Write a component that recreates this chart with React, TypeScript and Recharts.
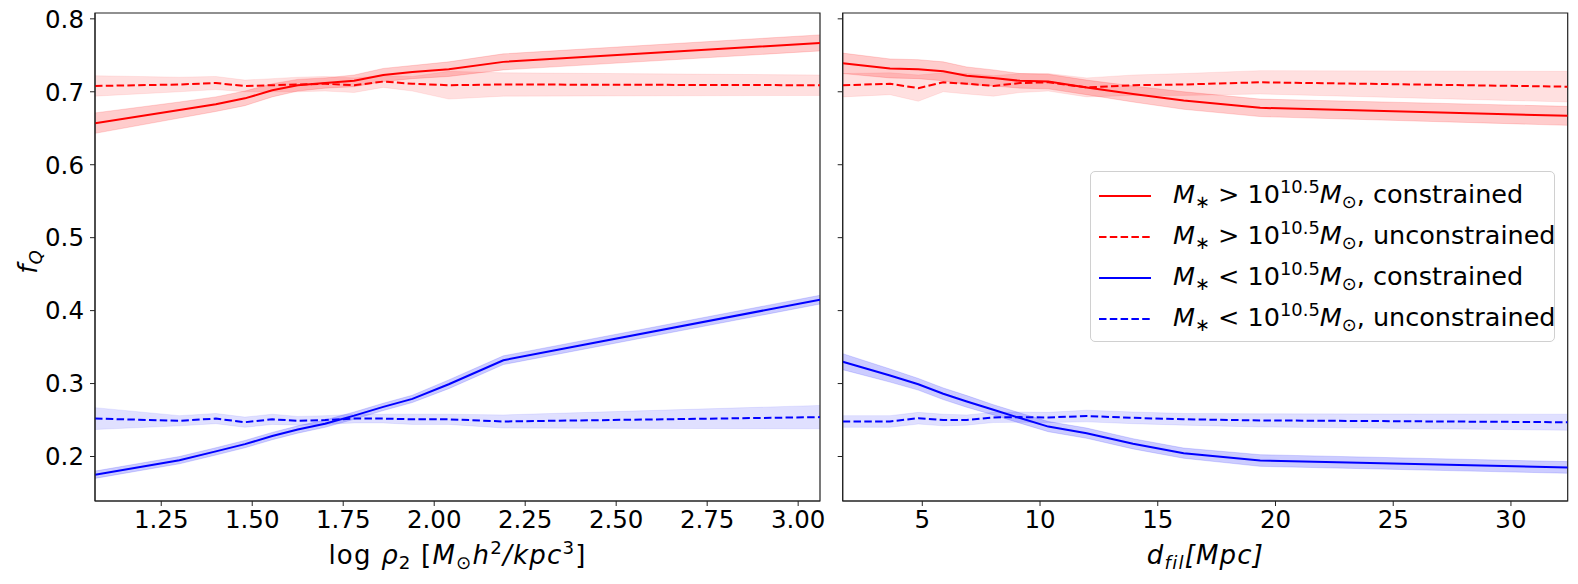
import React from 'react';
import { ComposedChart, Line, Area, XAxis, YAxis, ReferenceArea, Legend } from 'recharts';

// ---------- data ----------
const LEFT_X = [1.068, 1.3, 1.4, 1.48, 1.555, 1.625, 1.7, 1.78, 1.86, 1.94, 2.04, 2.19, 3.06];
const L_RED_CON = [0.657, 0.675, 0.683, 0.691, 0.702, 0.709, 0.712, 0.715, 0.723, 0.727, 0.731, 0.741, 0.767];
const L_RED_CON_ERR = [0.014, 0.011, 0.01, 0.01, 0.009, 0.008, 0.007, 0.008, 0.009, 0.009, 0.01, 0.011, 0.011];
const L_RED_UNC = [0.708, 0.71, 0.712, 0.708, 0.709, 0.71, 0.711, 0.709, 0.714, 0.711, 0.709, 0.71, 0.709];
const L_RED_UNC_ERR = [0.014, 0.01, 0.009, 0.008, 0.009, 0.01, 0.01, 0.01, 0.008, 0.01, 0.019, 0.016, 0.014];
const L_BLUE_CON = [0.175, 0.195, 0.207, 0.217, 0.228, 0.237, 0.245, 0.256, 0.268, 0.279, 0.299, 0.332, 0.415];
const L_BLUE_CON_ERR = [0.005, 0.005, 0.005, 0.005, 0.005, 0.005, 0.005, 0.005, 0.005, 0.005, 0.006, 0.006, 0.006];
const L_BLUE_UNC = [0.252, 0.249, 0.252, 0.247, 0.251, 0.249, 0.25, 0.252, 0.252, 0.251, 0.251, 0.248, 0.254];
const L_BLUE_UNC_ERR = [0.015, 0.007, 0.007, 0.007, 0.007, 0.006, 0.006, 0.006, 0.006, 0.007, 0.007, 0.009, 0.016];

const RIGHT_X = [1.62, 3.63, 4.83, 5.89, 6.89, 8.02, 9.15, 10.35, 11.98, 13.95, 16.1, 19.35, 32.41];
const R_RED_CON = [0.739, 0.732, 0.731, 0.728, 0.722, 0.719, 0.715, 0.714, 0.706, 0.697, 0.688, 0.678, 0.667];
const R_RED_CON_ERR = [0.014, 0.013, 0.013, 0.013, 0.012, 0.011, 0.01, 0.01, 0.01, 0.011, 0.012, 0.012, 0.013];
const R_RED_UNC = [0.709, 0.711, 0.705, 0.713, 0.711, 0.708, 0.712, 0.713, 0.706, 0.709, 0.71, 0.713, 0.707];
const R_RED_UNC_ERR = [0.016, 0.015, 0.018, 0.013, 0.014, 0.014, 0.013, 0.012, 0.013, 0.014, 0.015, 0.016, 0.021];
const R_BLUE_CON = [0.33, 0.311, 0.299, 0.286, 0.2755, 0.264, 0.2527, 0.241, 0.232, 0.2174, 0.2046, 0.1945, 0.185];
const R_BLUE_CON_ERR = [0.011, 0.009, 0.008, 0.008, 0.008, 0.007, 0.007, 0.007, 0.007, 0.007, 0.007, 0.008, 0.008];
const R_BLUE_UNC = [0.248, 0.248, 0.2525, 0.25, 0.25, 0.2535, 0.254, 0.2535, 0.2555, 0.253, 0.251, 0.2495, 0.247];
const R_BLUE_UNC_ERR = [0.008, 0.008, 0.008, 0.008, 0.007, 0.007, 0.007, 0.007, 0.008, 0.008, 0.008, 0.009, 0.011];

const Y_TICKS = [0.2, 0.3, 0.4, 0.5, 0.6, 0.7, 0.8];
const Y_DOMAIN = [0.139, 0.808];
const LEFT_TICKS = [1.25, 1.5, 1.75, 2.0, 2.25, 2.5, 2.75, 3.0];
const LEFT_DOMAIN = [1.068, 3.06];
const RIGHT_TICKS = [5, 10, 15, 20, 25, 30];
const RIGHT_DOMAIN = [1.62, 32.41];

const LEGEND_SIGNS = ['>', '>', '<', '<'];
const LEGEND_KINDS = ['constrained', 'unconstrained', 'constrained', 'unconstrained'];
const LEGEND_COLORS = ['#ff0000', '#ff0000', '#0000ff', '#0000ff'];
const LEGEND_DASHED = [false, true, false, true];

// ---------- helpers ----------
const RED = '#ff0000';
const BLUE = '#0000ff';
const DASH = '7.5 3.3';
const FONT = "'DejaVu Sans', sans-serif";
const TICK_FS = 24.5;

function build(xs, rc, rcE, ru, ruE, bc, bcE, bu, buE) {
  return xs.map((x, i) => ({
    x,
    rc: rc[i], rcB: [rc[i] - rcE[i], rc[i] + rcE[i]],
    ru: ru[i], ruB: [ru[i] - ruE[i], ru[i] + ruE[i]],
    bc: bc[i], bcB: [bc[i] - bcE[i], bc[i] + bcE[i]],
    bu: bu[i], buB: [bu[i] - buE[i], bu[i] + buE[i]],
  }));
}

const leftData = build(LEFT_X, L_RED_CON, L_RED_CON_ERR, L_RED_UNC, L_RED_UNC_ERR, L_BLUE_CON, L_BLUE_CON_ERR, L_BLUE_UNC, L_BLUE_UNC_ERR);
const rightData = build(RIGHT_X, R_RED_CON, R_RED_CON_ERR, R_RED_UNC, R_RED_UNC_ERR, R_BLUE_CON, R_BLUE_CON_ERR, R_BLUE_UNC, R_BLUE_UNC_ERR);

const Sub = ({ children }: any) => (
  <span style={{ fontSize: '0.7em', position: 'relative', top: '0.3em' }}>{children}</span>
);
const Sup = ({ children }: any) => (
  <span style={{ fontSize: '0.7em', position: 'relative', top: '-0.55em' }}>{children}</span>
);

const makeXTick = (fmt: (v: number) => string) => (props: any) => {
  const { x, y, payload } = props;
  return (
    <text x={x} y={y} dy="0.76em" textAnchor="middle" fontSize={TICK_FS} fontFamily={FONT} fill="#000">
      {fmt(payload.value)}
    </text>
  );
};
const makeYTick = (fmt: (v: number) => string) => (props: any) => {
  const { x, y, payload } = props;
  const s = fmt(payload.value);
  if (!s) return <g />;
  return (
    <text x={x} y={y} dy="0.36em" textAnchor="end" fontSize={TICK_FS} fontFamily={FONT} fill="#000">
      {s}
    </text>
  );
};

function seriesEls() {
  return [
    <Area key="rcB" dataKey="rcB" type="linear" fill={RED} fillOpacity={0.2} stroke={RED} strokeOpacity={0.15} strokeWidth={1} isAnimationActive={false} dot={false} activeDot={false} />,
    <Area key="ruB" dataKey="ruB" type="linear" fill={RED} fillOpacity={0.12} stroke={RED} strokeOpacity={0.08} strokeWidth={1} isAnimationActive={false} dot={false} activeDot={false} />,
    <Area key="bcB" dataKey="bcB" type="linear" fill={BLUE} fillOpacity={0.2} stroke={BLUE} strokeOpacity={0.15} strokeWidth={1} isAnimationActive={false} dot={false} activeDot={false} />,
    <Area key="buB" dataKey="buB" type="linear" fill={BLUE} fillOpacity={0.12} stroke={BLUE} strokeOpacity={0.08} strokeWidth={1} isAnimationActive={false} dot={false} activeDot={false} />,
    <Line key="rc" dataKey="rc" type="linear" stroke={RED} strokeWidth={2} dot={false} activeDot={false} isAnimationActive={false} />,
    <Line key="ru" dataKey="ru" type="linear" stroke={RED} strokeWidth={2} strokeDasharray={DASH} dot={false} activeDot={false} isAnimationActive={false} />,
    <Line key="bc" dataKey="bc" type="linear" stroke={BLUE} strokeWidth={2} dot={false} activeDot={false} isAnimationActive={false} />,
    <Line key="bu" dataKey="bu" type="linear" stroke={BLUE} strokeWidth={2} strokeDasharray={DASH} dot={false} activeDot={false} isAnimationActive={false} />,
  ];
}

const LegendBox = () => (
  <div
    style={{
      width: 465,
      height: 171,
      boxSizing: 'border-box',
      border: '1px solid #d0d0d0',
      borderRadius: 5,
      background: 'rgba(255,255,255,0.85)',
      padding: '3px 0 0 0',
      fontFamily: FONT,
      fontSize: 25.5,
      color: '#000',
    }}
  >
    {LEGEND_SIGNS.map((s, i) => (
      <div key={i} style={{ height: 41, display: 'flex', alignItems: 'center', whiteSpace: 'nowrap' }}>
        <svg width={70} height={10} style={{ flex: '0 0 auto' }}>
          <line x1={8} x2={60} y1={5} y2={5} stroke={LEGEND_COLORS[i]} strokeWidth={2} strokeDasharray={LEGEND_DASHED[i] ? DASH : undefined} />
        </svg>
        <span style={{ marginLeft: 12, lineHeight: '30px' }}>
          <i>M</i>
          <Sub>∗</Sub>
          {' ' + s + ' '}10<Sup>10.5</Sup>
          <i>M</i>
          <Sub>⊙</Sub>, {LEGEND_KINDS[i]}
        </span>
      </div>
    ))}
  </div>
);

export default function App() {
  return (
    <div style={{ position: 'absolute', left: 0, top: 0, width: 1578, height: 584, background: '#fff', fontFamily: FONT }}>
      {/* Left panel */}
      <div style={{ position: 'absolute', left: 0, top: 0 }}>
        <ComposedChart width={830} height={584} data={leftData} margin={{ top: 13, right: 10, left: 35, bottom: 43 }}>
          <XAxis
            dataKey="x"
            type="number"
            domain={LEFT_DOMAIN}
            allowDataOverflow
            ticks={LEFT_TICKS}
            height={40}
            tick={makeXTick((v) => v.toFixed(2))}
            tickSize={5}
            tickMargin={3}
            stroke="#222"
          />
          <YAxis
            type="number"
            domain={Y_DOMAIN}
            allowDataOverflow
            ticks={Y_TICKS}
            width={60}
            tick={makeYTick((v) => v.toFixed(1))}
            tickSize={5}
            tickMargin={6}
            stroke="#222"
          />
          {seriesEls()}
          <ReferenceArea x1={LEFT_DOMAIN[0]} x2={LEFT_DOMAIN[1]} y1={Y_DOMAIN[0]} y2={Y_DOMAIN[1]} fill="none" stroke="#222" strokeWidth={1.2} ifOverflow="visible" />
        </ComposedChart>
      </div>

      {/* Right panel */}
      <div style={{ position: 'absolute', left: 820, top: 0 }}>
        <ComposedChart width={758} height={584} data={rightData} margin={{ top: 13, right: 10.3, left: 12.7, bottom: 43 }}>
          <XAxis
            dataKey="x"
            type="number"
            domain={RIGHT_DOMAIN}
            allowDataOverflow
            ticks={RIGHT_TICKS}
            height={40}
            tick={makeXTick((v) => String(v))}
            tickSize={5}
            tickMargin={3}
            stroke="#222"
          />
          <YAxis
            type="number"
            domain={Y_DOMAIN}
            allowDataOverflow
            ticks={Y_TICKS}
            width={10}
            tick={makeYTick(() => '')}
            tickSize={5}
            tickMargin={2}
            stroke="#222"
          />
          {seriesEls()}
          <ReferenceArea x1={RIGHT_DOMAIN[0]} x2={RIGHT_DOMAIN[1]} y1={Y_DOMAIN[0]} y2={Y_DOMAIN[1]} fill="none" stroke="#222" strokeWidth={1.2} ifOverflow="visible" />
          <Legend
            layout="vertical"
            align="center"
            verticalAlign="middle"
            content={() => <LegendBox />}
            wrapperStyle={{ left: 270, top: 171, width: 465, height: 171 }}
          />
        </ComposedChart>
      </div>

      {/* Axis labels */}
      <div style={{ position: 'absolute', left: 95, width: 725, top: 540, textAlign: 'center', fontSize: 26, letterSpacing: 1.2, lineHeight: '30px', whiteSpace: 'nowrap' }}>
        log <i>ρ</i><Sub>2</Sub> [<i>M</i><Sub>⊙</Sub><i>h</i><Sup>2</Sup><i>/kpc</i><Sup>3</Sup>]
      </div>
      <div style={{ position: 'absolute', left: 843, width: 725, top: 540, textAlign: 'center', fontSize: 26, letterSpacing: 1.2, lineHeight: '30px', whiteSpace: 'nowrap' }}>
        <i>d</i><Sub><i>fil</i></Sub><i>[Mpc]</i>
      </div>
      <div
        style={{
          position: 'absolute',
          left: 29,
          top: 262,
          transform: 'translate(-50%, -50%) rotate(-90deg)',
          fontSize: 26,
          lineHeight: '30px',
          whiteSpace: 'nowrap',
        }}
      >
        <i>f</i><Sub><i>Q</i></Sub>
      </div>
    </div>
  );
}
